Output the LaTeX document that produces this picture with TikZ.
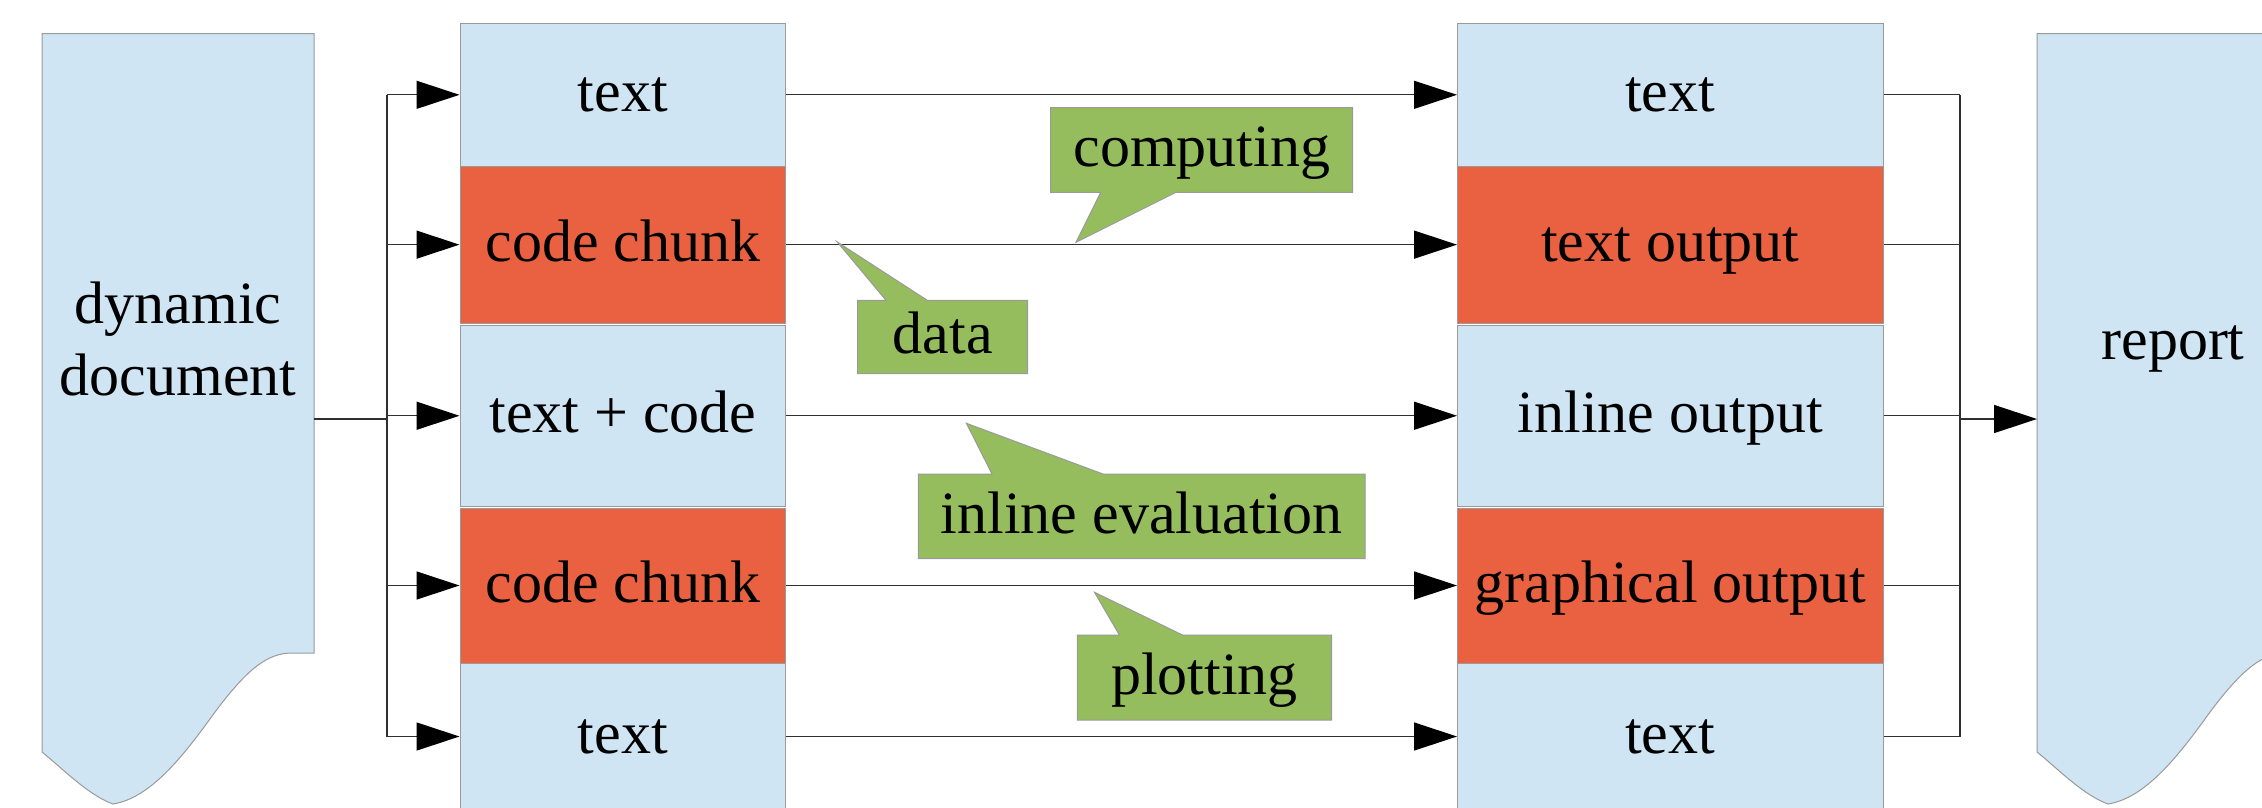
\documentclass[tikz,border=0pt]{standalone}
\usepackage{fontspec}
\setmainfont{Liberation Serif}
\usetikzlibrary{arrows.meta}
\definecolor{lblue}{HTML}{CFE5F3}
\definecolor{corange}{HTML}{E96140}
\definecolor{cgreen}{HTML}{95BD5E}
\definecolor{bordergray}{HTML}{9A9A9A}
\definecolor{linecol}{HTML}{303030}
\tikzset{
  bigfont/.style={font=\fontsize{60}{72}\selectfont},
  oneline/.style={bigfont, text height=42pt, text depth=8.4pt, inner sep=0pt},
  colbox/.style={oneline, draw=bordergray, line width=1pt, anchor=center},
  lbox/.style={colbox, minimum width=325.7pt},
  rbox/.style={colbox, minimum width=425.5pt},
  docshape/.style={fill=lblue, draw=bordergray, line width=1pt},
  callout/.style={fill=cgreen, draw=bordergray, line width=1pt},
  conn/.style={draw=linecol, line width=1.3pt},
  arr/.style={conn, -{Triangle[length=43pt,width=28pt,color=black]}},
}
\begin{document}
\begin{tikzpicture}[x=1pt,y=-1pt]
\useasboundingbox (0,0) rectangle (2262,807);
\clip (0,0) rectangle (2262,807);
\fill[white] (0,0) rectangle (2262,807);

% left document
\path[docshape] (42,33.5) -- (314,33.5) -- (314,653) -- (292,653)
  .. controls (268,653) and (248,668) .. (215,712)
  .. controls (182,758) and (150,798) .. (113,804)
  .. controls (88,795) and (62,768) .. (42,752) -- cycle;
\node[bigfont, align=center, inner sep=0pt] (ldoc) at (178,339) {dynamic\\document};

% right document (report)
\begin{scope}[xshift=1995pt]
\path[docshape] (42,33.5) -- (314,33.5) -- (314,653) -- (292,653)
  .. controls (268,653) and (248,668) .. (215,712)
  .. controls (182,758) and (150,798) .. (113,804)
  .. controls (88,795) and (62,768) .. (42,752) -- cycle;
\end{scope}
\node[oneline] (rdoc) at (2173,343) {report};

% left column
\node[lbox, fill=lblue,   minimum height=143pt]   (L1) at (622.85,94.8)   {text};
\node[lbox, fill=corange, minimum height=156.7pt] (L2) at (622.85,244.65) {code chunk};
\node[lbox, fill=lblue,   minimum height=181.5pt] (L3) at (622.85,415.75) {text + code};
\node[lbox, fill=corange, minimum height=155pt]   (L4) at (622.85,585.5)  {code chunk};
\node[lbox, fill=lblue,   minimum height=147pt]   (L5) at (622.85,736.5)  {text};

% right column
\node[rbox, fill=lblue,   minimum height=143pt]   (R1) at (1670.25,94.8)   {text};
\node[rbox, fill=corange, minimum height=156.7pt] (R2) at (1670.25,244.65) {text output};
\node[rbox, fill=lblue,   minimum height=181.5pt] (R3) at (1670.25,415.75) {inline output};
\node[rbox, fill=corange, minimum height=155pt]   (R4) at (1670.25,585.5)  {graphical output};
\node[rbox, fill=lblue,   minimum height=147pt]   (R5) at (1670.25,736.5)  {text};

% connectors left
\coordinate (ldocout) at (314,419);
\coordinate (forkL) at (387,419);
\draw[conn] (ldocout) -- (forkL);
\draw[conn] (forkL |- L1) -- (forkL |- L5);
\foreach \i in {1,...,5} \draw[arr] (forkL |- L\i) -- (L\i.west);

% connectors middle
\foreach \i in {1,...,5} \draw[arr] (L\i.east) -- (R\i.west);

% connectors right
\coordinate (forkR) at (1960,419);
\coordinate (rdocin) at (2037,419);
\foreach \i in {1,...,5} \draw[conn] (R\i.east) -- (forkR |- R\i);
\draw[conn] (forkR |- R1) -- (forkR |- R5);
\draw[arr] (forkR) -- (rdocin);

% callouts
\path[callout] (1050.7,107.7) -- (1352.7,107.7) -- (1352.7,192.3) -- (1176,192.3)
  -- (1076,242.3) -- (1100.7,192.3) -- (1050.7,192.3) -- cycle;
\node[oneline] (comp) at (1201.7,150) {computing};

\path[callout] (857.7,300.3) -- (886,300.3) -- (837.3,242) -- (927.3,300.3)
  -- (1027.7,300.3) -- (1027.7,373.7) -- (857.7,373.7) -- cycle;
\node[oneline] (data) at (942.7,337) {data};

\path[callout] (918.4,474) -- (992,474) -- (966.4,423.3) -- (1103,474)
  -- (1365,474) -- (1365,558.7) -- (918.4,558.7) -- cycle;
\node[oneline] (ieval) at (1141.7,517) {inline evaluation};

\path[callout] (1077.3,635) -- (1119.4,635) -- (1094.5,592.3) -- (1182.5,635)
  -- (1331.6,635) -- (1331.6,720) -- (1077.3,720) -- cycle;
\node[oneline] (plot) at (1204.5,677.5) {plotting};
\end{tikzpicture}
\end{document}
